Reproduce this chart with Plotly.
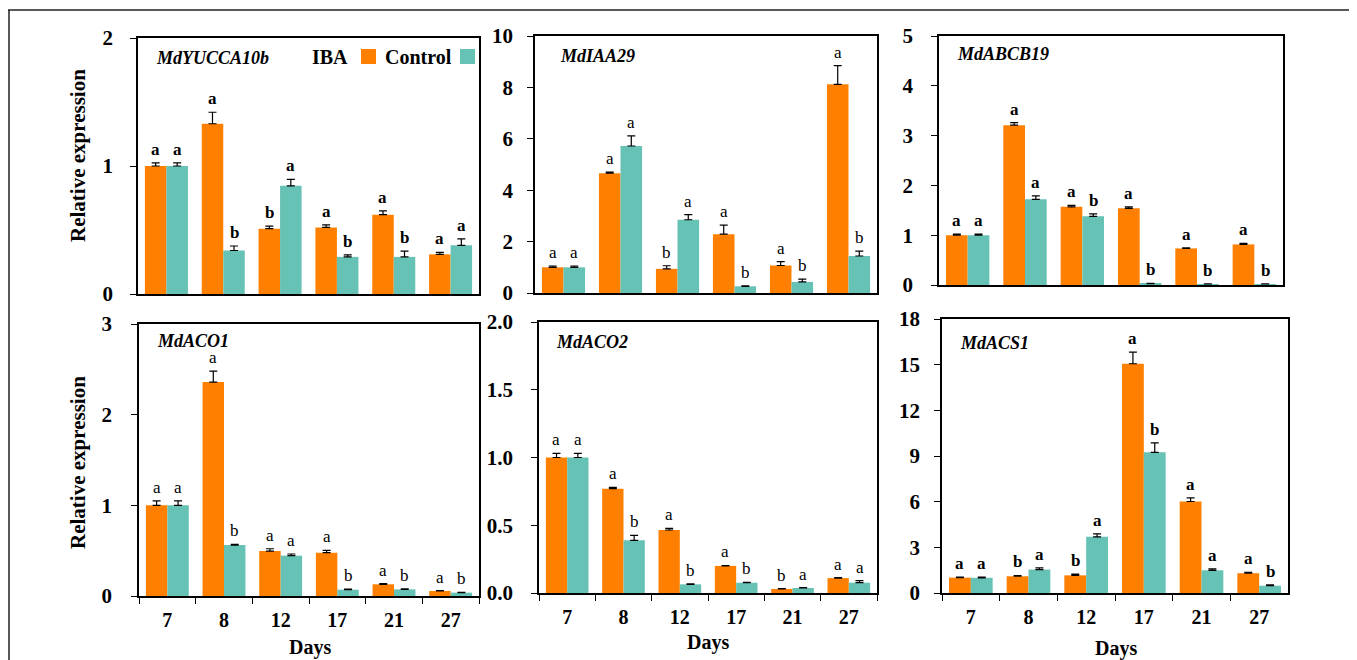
import plotly.graph_objects as go

OFF = 8  # default page body margin
W, H = 1357 - OFF, 660 - OFF
FONT = "Liberation Serif"
ORANGE = "#FF8000"
TEAL = "#66C2B4"

days = ["7", "8", "12", "17", "21", "27"]
genes = ["MdYUCCA10b", "MdIAA29", "MdABCB19", "MdACO1", "MdACO2", "MdACS1"]

# MdYUCCA10b
yucca_iba = [1.00, 1.33, 0.51, 0.52, 0.62, 0.31]
yucca_iba_err = [0.025, 0.09, 0.02, 0.02, 0.03, 0.015]
yucca_ctrl = [1.00, 0.34, 0.845, 0.29, 0.29, 0.38]
yucca_ctrl_err = [0.025, 0.035, 0.05, 0.015, 0.045, 0.05]
yucca_iba_sig = ["a", "a", "b", "a", "a", "a"]
yucca_ctrl_sig = ["a", "b", "a", "b", "b", "a"]

# MdIAA29
iaa_iba = [1.00, 4.66, 0.94, 2.29, 1.07, 8.12]
iaa_iba_err = [0.05, 0.04, 0.12, 0.35, 0.15, 0.73]
iaa_ctrl = [1.00, 5.72, 2.85, 0.26, 0.43, 1.44]
iaa_ctrl_err = [0.05, 0.39, 0.20, 0.02, 0.11, 0.19]
iaa_iba_sig = ["a", "a", "b", "a", "a", "a"]
iaa_ctrl_sig = ["a", "a", "a", "b", "b", "b"]

# MdABCB19
abcb_iba = [1.00, 3.21, 1.57, 1.54, 0.735, 0.815]
abcb_iba_err = [0.02, 0.05, 0.03, 0.03, 0.01, 0.02]
abcb_ctrl = [1.00, 1.72, 1.38, 0.027, 0.02, 0.02]
abcb_ctrl_err = [0.02, 0.07, 0.05, 0.005, 0.005, 0.005]
abcb_iba_sig = ["a", "a", "a", "a", "a", "a"]
abcb_ctrl_sig = ["a", "a", "b", "b", "b", "b"]

# MdACO1
aco1_iba = [1.00, 2.36, 0.496, 0.478, 0.129, 0.055]
aco1_iba_err = [0.05, 0.12, 0.025, 0.025, 0.007, 0.005]
aco1_ctrl = [1.00, 0.562, 0.445, 0.07, 0.073, 0.037]
aco1_ctrl_err = [0.05, 0.008, 0.018, 0.005, 0.005, 0.004]
aco1_iba_sig = ["a", "a", "a", "a", "a", "a"]
aco1_ctrl_sig = ["a", "b", "a", "b", "b", "b"]

# MdACO2
aco2_iba = [1.00, 0.77, 0.465, 0.20, 0.03, 0.11]
aco2_iba_err = [0.03, 0.01, 0.012, 0.003, 0.002, 0.004]
aco2_ctrl = [1.00, 0.389, 0.064, 0.076, 0.037, 0.076]
aco2_ctrl_err = [0.03, 0.037, 0.003, 0.003, 0.002, 0.015]
aco2_iba_sig = ["a", "a", "a", "a", "b", "a"]
aco2_ctrl_sig = ["a", "b", "b", "b", "a", "a"]

# MdACS1
acs_iba = [1.01, 1.10, 1.16, 15.06, 6.01, 1.30]
acs_iba_err = [0.04, 0.05, 0.08, 0.77, 0.24, 0.05]
acs_ctrl = [1.00, 1.54, 3.69, 9.24, 1.49, 0.48]
acs_ctrl_err = [0.04, 0.11, 0.19, 0.62, 0.09, 0.06]
acs_iba_sig = ["a", "b", "b", "a", "a", "a"]
acs_ctrl_sig = ["a", "a", "a", "b", "a", "b"]

y_ranges = [(0, 2), (0, 10), (0, 5), (0, 3), (0, 2), (0, 18)]
y_dticks = [1, 2, 1, 1, 0.5, 3]
y_tickformat = ["d", "d", "d", "d", ".1f", "d"]

data = [
    (yucca_iba, yucca_iba_err, yucca_ctrl, yucca_ctrl_err, yucca_iba_sig, yucca_ctrl_sig),
    (iaa_iba, iaa_iba_err, iaa_ctrl, iaa_ctrl_err, iaa_iba_sig, iaa_ctrl_sig),
    (abcb_iba, abcb_iba_err, abcb_ctrl, abcb_ctrl_err, abcb_iba_sig, abcb_ctrl_sig),
    (aco1_iba, aco1_iba_err, aco1_ctrl, aco1_ctrl_err, aco1_iba_sig, aco1_ctrl_sig),
    (aco2_iba, aco2_iba_err, aco2_ctrl, aco2_ctrl_err, aco2_iba_sig, aco2_ctrl_sig),
    (acs_iba, acs_iba_err, acs_ctrl, acs_ctrl_err, acs_iba_sig, acs_ctrl_sig),
]

# layout (window-pixel boxes of plot areas: x0, x1, y0(top), y1(bottom))
boxes = [
    (138, 479, 38, 294),
    (535, 877, 36, 293),
    (939, 1283, 36, 285),
    (139, 479, 324, 596),
    (539, 877, 322, 593),
    (942, 1288, 319, 593),
]
ystandoff = [13, 10, 14, 15, 14, 10]
bold_letters = [True, False, True, False, False, True]
gene_pos = [(154, 58), (558, 56), (955, 54), (155, 341), (554, 342), (958, 343)]


def px(x):
    return (x - OFF) / W


def py(y):
    return 1 - (y - OFF) / H


fig = go.Figure()
layout = dict(
    width=W, height=H, margin=dict(l=0, r=0, t=0, b=0, autoexpand=False),
    plot_bgcolor="white", paper_bgcolor="white",
    showlegend=False, barmode="group", bargap=0.243, bargroupgap=0,
    font=dict(family=FONT, color="black"),
)
annotations = []
shapes = []

for k in range(6):
    iba, iba_err, ctrl, ctrl_err, iba_sig, ctrl_sig = data[k]
    ax = "" if k == 0 else str(k + 1)
    xref, yref = "x" + ax, "y" + ax
    for vals, errs, col in ((iba, iba_err, ORANGE), (ctrl, ctrl_err, TEAL)):
        fig.add_trace(go.Bar(
            x=days, y=vals, xaxis=xref, yaxis=yref,
            marker=dict(color=col, line=dict(width=0)),
            error_y=dict(type="data", array=errs, arrayminus=[0] * 6, symmetric=False,
                         color="black", thickness=1.2, width=4),
        ))
    x0, x1, y0, y1 = boxes[k]
    bottom = k >= 3
    layout["xaxis" + ax] = dict(
        domain=[px(x0), px(x1)], anchor=yref, type="category",
        categoryorder="array", categoryarray=days, range=[-0.5, 5.5],
        showline=True, linecolor="black", linewidth=1.5, mirror=True,
        ticks="outside" if bottom else "", tickson="boundaries", ticklen=6,
        tickcolor="black", showticklabels=bottom, ticklabelstandoff=5,
        tickfont=dict(family=FONT, size=20, color="black", weight="bold"),
        showgrid=False, zeroline=False, fixedrange=True, automargin=False,
    )
    layout["yaxis" + ax] = dict(
        domain=[py(y1), py(y0)], anchor=xref, range=list(y_ranges[k]),
        dtick=y_dticks[k], tick0=0, tickformat=y_tickformat[k],
        showline=True, linecolor="black", linewidth=1.5, mirror=True,
        ticks="outside", ticklen=6, tickcolor="black", ticklabelstandoff=ystandoff[k],
        tickfont=dict(family=FONT, size=21, color="black", weight="bold"),
        showgrid=False, zeroline=False, fixedrange=True, automargin=False,
    )
    # significance letters
    lw = "bold" if bold_letters[k] else "normal"
    for i in range(6):
        for vals, errs, sig, off in ((iba, iba_err, iba_sig, -0.19), (ctrl, ctrl_err, ctrl_sig, 0.19)):
            annotations.append(dict(
                x=i + off, y=vals[i] + errs[i], xref=xref, yref=yref,
                text=sig[i], showarrow=False, xanchor="center", yanchor="bottom", yshift=2,
                font=dict(family=FONT, size=17, color="black", weight=lw),
            ))
    # gene label
    gx, gy = gene_pos[k]
    annotations.append(dict(
        x=px(gx), y=py(gy), xref="paper", yref="paper", xanchor="left", yanchor="middle",
        text="<b><i>%s</i></b>" % genes[k], showarrow=False,
        font=dict(family=FONT, size=18, color="black"),
    ))

# y-axis titles
for cy in (156, 463):
    annotations.append(dict(
        x=px(78), y=py(cy), xref="paper", yref="paper", textangle=-90,
        xanchor="center", yanchor="middle",
        text="<b>Relative expression</b>", showarrow=False,
        font=dict(family=FONT, size=21, color="black"),
    ))
# x-axis titles
for cx, cy in ((310, 647), (708, 642), (1116, 648)):
    annotations.append(dict(
        x=px(cx), y=py(cy), xref="paper", yref="paper",
        xanchor="center", yanchor="middle",
        text="<b>Days</b>", showarrow=False,
        font=dict(family=FONT, size=20, color="black"),
    ))

# legend (label followed by swatch)
legend_items = [("IBA", 330, ORANGE, 361), ("Control", 418, TEAL, 460)]
for name, tx, col, sx in legend_items:
    annotations.append(dict(
        x=px(tx), y=py(57), xref="paper", yref="paper",
        xanchor="center", yanchor="middle",
        text="<b>%s</b>" % name, showarrow=False,
        font=dict(family=FONT, size=20, color="black"),
    ))
    shapes.append(dict(type="rect", xref="paper", yref="paper",
                       x0=px(sx), x1=px(sx + 15), y0=py(64), y1=py(49),
                       fillcolor=col, line=dict(width=0)))

# outer frame
shapes.append(dict(type="line", xref="paper", yref="paper", x0=px(8), x1=px(1356),
                   y0=py(10), y1=py(10), line=dict(color="#222", width=1.5)))
shapes.append(dict(type="line", xref="paper", yref="paper", x0=px(9), x1=px(9),
                   y0=py(10), y1=0, line=dict(color="#222", width=1.5)))
shapes.append(dict(type="line", xref="paper", yref="paper", x0=px(1356), x1=px(1356),
                   y0=py(10), y1=0, line=dict(color="#888", width=1.5)))

layout["annotations"] = annotations
layout["shapes"] = shapes
fig.update_layout(**layout)
fig.write_html("out.html")
